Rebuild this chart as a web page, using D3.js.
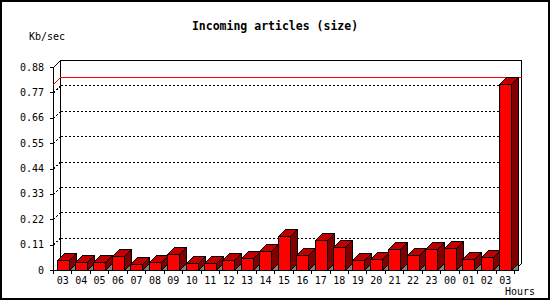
<!DOCTYPE html>
<html>
<head>
<meta charset="utf-8">
<script src="https://cdn.jsdelivr.net/npm/d3@7"></script>
<style>
  body { margin: 0; background: #fff; }
  svg text { font-family: 'DejaVu Sans Mono', monospace; font-size: 10px; fill: #000; }
</style>
</head>
<body>
<svg id="chart"></svg>
<script>
const hours = ['03', '04', '05', '06', '07', '08', '09', '10', '11', '12', '13', '14', '15', '16', '17', '18', '19', '20', '21', '22', '23', '00', '01', '02', '03'];
const kbPerSec = [0.042, 0.033, 0.033, 0.059, 0.025, 0.033, 0.068, 0.029, 0.029, 0.042, 0.051, 0.084, 0.146, 0.064, 0.129, 0.098, 0.042, 0.046, 0.090, 0.064, 0.090, 0.094, 0.046, 0.055, 0.806];
const yTicks = [0, 0.11, 0.22, 0.33, 0.44, 0.55, 0.66, 0.77, 0.88];
const yTickLabels = ['0', '0.11', '0.22', '0.33', '0.44', '0.55', '0.66', '0.77', '0.88'];

const width = 550;
const height = 300;
const marginLeft = 53;
const marginRight = 36;
const marginTop = 67;
const marginBottom = 30;
const depth = 7; // 3d offset, px

const svg = d3.select('#chart').attr('width', width).attr('height', height).attr('viewBox', [0, 0, width, height])
  .attr('shape-rendering', 'crispEdges');

// frame
svg.append('rect').attr('x', 1).attr('y', 1).attr('width', width - 2).attr('height', height - 2)
  .attr('fill', '#fff').attr('stroke', '#000').attr('stroke-width', 2);

const x = d3.scaleBand().domain(d3.range(hours.length)).range([marginLeft, width - marginRight]).padding(0);
const y = d3.scaleLinear().domain([0, 0.88]).range([height - marginBottom, marginTop]);
const x0 = marginLeft, x1 = width - marginRight;
const y0 = y(0), yTop = y(0.88);

const line = (g, pts, stroke, dash) => g.append('polyline')
  .attr('points', pts.map((p) => p.join(',')).join(' '))
  .attr('fill', 'none').attr('stroke', stroke).attr('stroke-width', 1)
  .attr('stroke-dasharray', dash || null);

/**
 * back wall + axes
 */
const walls = svg.append('g').attr('transform', 'translate(0.5,0.5)');
line(walls, [[x0 + depth, y0 - depth], [x0 + depth, yTop - depth], [x1 + depth, yTop - depth], [x1 + depth, y0 - depth], [x1, y0]], '#000');
line(walls, [[x0 + depth, yTop - depth], [x0, yTop], [x0, y0], [x1, y0]], '#000');

// dotted grid
yTicks.slice(1, -1).forEach((t) => {
  line(walls, [[x0 + depth, y(t) - depth], [x1 + depth, y(t) - depth]], '#000', '2,2');
  line(walls, [[x0, y(t)], [x0 + depth, y(t) - depth]], '#000', '2,2');
});

// max line
const maxV = d3.max(kbPerSec);
line(walls, [[x0, y(maxV)], [x0 + depth, y(maxV) - depth], [x1 + depth, y(maxV) - depth]], '#f00');

// y axis ticks
yTicks.forEach((t, i) => {
  line(walls, [[x0 - 4, y(t)], [x0, y(t)]], '#000');
  svg.append('text').attr('x', x0 - 9).attr('y', y(t) + 3.5).attr('text-anchor', 'end').text(yTickLabels[i]);
});

// x axis ticks + labels
d3.range(hours.length + 1).forEach((i) => {
  const xx = Math.round(x0 + i * x.bandwidth());
  line(walls, [[xx, y0], [xx, y0 + 3]], '#000');
});
svg.append('g').selectAll('text').data(hours).join('text')
  .attr('x', (d, i) => x(i) + x.bandwidth() / 2 + 0.5)
  .attr('y', y0 + 14)
  .attr('text-anchor', 'middle')
  .text((d) => d);

/**
 * 3d bars
 */
const bars = svg.append('g').attr('transform', 'translate(0.5,0.5)');
kbPerSec.forEach((v, i) => {
  const bl = Math.round(x(i) + x.bandwidth() * 0.19);
  const br = Math.round(bl + x.bandwidth() * 0.63);
  const bt = Math.round(y(v));
  const g = bars.append('g');
  const poly = (pts, fill) => g.append('polygon').attr('points', pts.map((p) => p.join(',')).join(' '))
    .attr('fill', fill).attr('stroke', '#000').attr('stroke-width', 1);
  poly([[br, y0], [br + depth, y0 - depth], [br + depth, y0]], '#808080');
  poly([[br, y0], [br, bt], [br + depth, bt - depth], [br + depth, y0 - depth]], '#800000');
  poly([[bl, bt], [bl + depth, bt - depth], [br + depth, bt - depth], [br, bt]], '#c00000');
  poly([[bl, y0], [bl, bt], [br, bt], [br, y0]], '#ff0000');
});

// titles
svg.append('text').attr('x', width / 2).attr('y', 30).attr('text-anchor', 'middle')
  .style('font-weight', 'bold').style('font-size', '11.5px').text('Incoming articles (size)');
svg.append('text').attr('x', 29).attr('y', 40).text('Kb/sec');
svg.append('text').attr('x', 505).attr('y', 295).text('Hours');
</script>
</body>
</html>
